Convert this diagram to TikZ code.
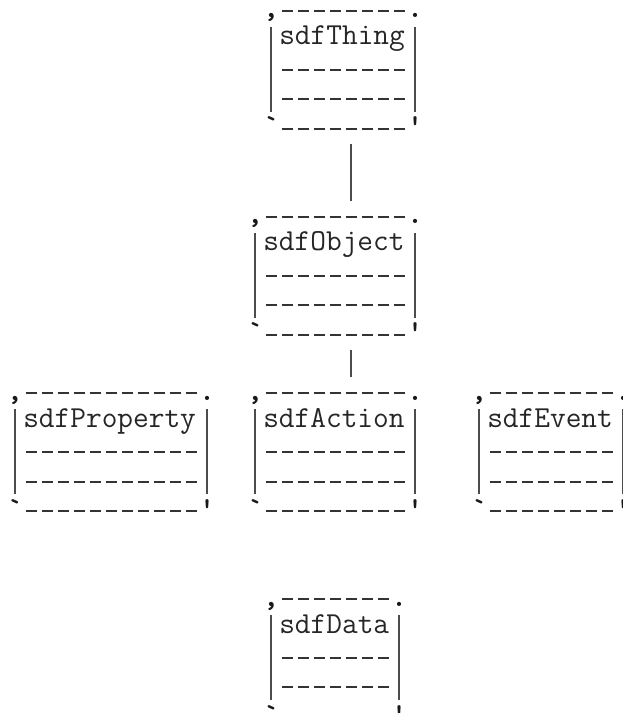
\documentclass[tikz,border=0pt]{standalone}
\usetikzlibrary{calc}
\begin{document}
\begin{tikzpicture}[
    x=0.75pt, y=-0.75pt,
    boxtext/.style={anchor=base west, inner sep=0pt, text=black!85,
        font=\fontsize{22.86pt}{24pt}\selectfont\ttfamily},
    corner/.style={anchor=base, inner sep=0pt, text=black!90,
        font=\fontsize{22.86pt}{24pt}\selectfont\ttfamily\bfseries},
    dashrow/.style={line width=1.5pt, black!80, dash pattern=on 8.25pt off 3.75pt},
    side/.style={line width=1.5pt, black!70},
    link/.style={line width=1.5pt, black!70}
]
\useasboundingbox (0,0) rectangle (623,713);
\coordinate (spine) at (351,0);

% boxes: name / column / top row / width / label
\foreach \nm/\c/\r/\w/\txt in {
    thing/16/0/8/sdfThing,
    object/15/7/9/sdfObject,
    property/0/13/11/sdfProperty,
    action/15/13/9/sdfAction,
    event/29/13/8/sdfEvent,
    data/16/20/7/sdfData}{
  \pgfmathsetmacro\xl{16*\c+15}
  \pgfmathsetmacro\xr{\xl+16*(\w+1)}
  \pgfmathsetmacro\yt{18+29.4*\r}
  \node[corner] (\nm-top) at (\xl,\yt) {,};
  \node[corner] at (\xr,\yt) {.};
  \node[boxtext] (\nm) at (\xl+8,\yt+27) {\txt};
  \foreach \dy in {-7,52,81.4,110.8}
    \draw[dashrow] (\xl+10.5,\yt+\dy) -- (\xr-10.5,\yt+\dy);
  \node[corner] (\nm-bot) at (\xl,\yt+118) {`};
  \node[corner] at (\xr,\yt+118) {'};
  \draw[side] (\xl,\yt+9) -- (\xl,\yt+94);
  \draw[side] (\xr,\yt+9) -- (\xr,\yt+94);
}

\draw[link] ($(thing-bot.base -| spine)+(0,8)$) -- ($(object-top.base -| spine)+(0,-23)$);
\draw[link] ($(object-bot.base -| spine)+(0,8)$) -- ($(action-top.base -| spine)+(0,-23)$);
\end{tikzpicture}
\end{document}
